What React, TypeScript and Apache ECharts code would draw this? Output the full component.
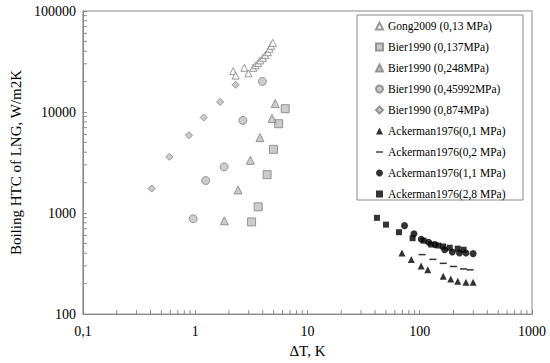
import React, { useEffect, useRef } from "react";
import * as echarts from "echarts";

// ---- data (ΔT in K, HTC in W/m2K) ----
const gong2009_013_dT = [2.18, 2.29, 2.74, 2.98, 3.29, 3.45, 3.64, 3.81, 4.02, 4.21, 4.44, 4.6, 4.75, 4.91];
const gong2009_013_htc = [25400, 22950, 27400, 24150, 27400, 29000, 30600, 32450, 34450, 36600, 39100, 42350, 45250, 48400];

const bier1990_0137_dT = [3.18, 3.64, 4.37, 4.98, 5.54, 6.34];
const bier1990_0137_htc = [817, 1153, 2399, 4273, 7660, 10790];

const bier1990_0248_dT = [1.82, 2.41, 3.1, 3.77, 4.84, 5.16];
const bier1990_0248_htc = [839, 1693, 3325, 5578, 8640, 12130];

const bier1990_045992_dT = [0.96, 1.24, 1.81, 2.66, 3.97];
const bier1990_045992_htc = [879, 2100, 2865, 8260, 20080];

const bier1990_0874_dT = [0.41, 0.59, 0.88, 1.19, 1.67, 2.29];
const bier1990_0874_htc = [1746, 3600, 5895, 8830, 12600, 18600];

const ackerman1976_01_dT = [69.5, 84.2, 102.9, 118, 162, 189, 218, 258, 299];
const ackerman1976_01_htc = [403, 348, 300, 274, 237, 223, 212, 207, 207];

const ackerman1976_02_dT = [105, 131, 162, 200, 245, 281];
const ackerman1976_02_htc = [388, 348, 318, 296, 280, 274];

const ackerman1976_11_dT = [73.2, 88.9, 103.2, 120, 137, 167, 195, 226, 258, 299];
const ackerman1976_11_htc = [751, 625, 550, 515, 488, 434, 412, 403, 403, 397];

const ackerman1976_28_dT = [41.6, 50.1, 65.4, 86.4, 108.5, 126.6, 146.4, 161.8, 185, 218, 246];
const ackerman1976_28_htc = [897, 768, 647, 564, 533, 488, 477, 467, 454, 444, 434];

const seriesNames = [
  "Gong2009 (0,13 MPa)",
  "Bier1990 (0,137MPa)",
  "Bier1990 (0,248MPa)",
  "Bier1990 (0,45992MPa)",
  "Bier1990 (0,874MPa)",
  "Ackerman1976(0,1 MPa)",
  "Ackerman1976(0,2 MPa)",
  "Ackerman1976(1,1 MPa)",
  "Ackerman1976(2,8 MPa)",
];

const xMin = 0.1;
const xMax = 1000;
const yMin = 100;
const yMax = 100000;
const xMinorTicks = [0.2, 0.3, 0.4, 0.5, 0.6, 0.7, 0.8, 0.9, 2, 3, 4, 5, 6, 7, 8, 9, 20, 30, 40, 50, 60, 70, 80, 90, 200, 300, 400, 500, 600, 700, 800, 900];
const yMinorTicks = [200, 300, 400, 500, 600, 700, 800, 900, 2000, 3000, 4000, 5000, 6000, 7000, 8000, 9000, 20000, 30000, 40000, 50000, 60000, 70000, 80000, 90000];

const zip = (a: number[], b: number[]) => a.map((v, i) => [v, b[i]]);

const AXIS_GRAY = "#898989";
const MARK_GRAY = "#bfbfbf";
const EDGE_GRAY = "#7f7f7f";
const FONT = "'Times New Roman', 'Liberation Serif', serif";
const DASH_PATH = "path://M0,0H10V2H0Z";

export default function App() {
  const ref = useRef<HTMLDivElement>(null);

  useEffect(() => {
    if (!ref.current) return;
    const chart = echarts.init(ref.current, undefined, { renderer: "svg" });

    const grayStyle = { color: MARK_GRAY, borderColor: EDGE_GRAY, borderWidth: 1 };
    const blackStyle = { color: "#000" };

    const tickData = [
      ...xMinorTicks.map((v) => [v, yMin, 0]),
      ...yMinorTicks.map((v) => [xMin, v, 1]),
    ];

    const option: any = {
      animation: false,
      backgroundColor: "#fff",
      textStyle: { fontFamily: FONT },
      grid: {
        left: 70,
        right: 18,
        top: 11,
        bottom: 40,
        show: true,
        borderColor: AXIS_GRAY,
        borderWidth: 1,
      },
      xAxis: {
        type: "log",
        logBase: 10,
        min: xMin,
        max: xMax,
        name: "ΔT, K",
        nameLocation: "middle",
        nameGap: 22,
        nameTextStyle: { fontFamily: FONT, fontSize: 15, color: "#000" },
        axisLine: { lineStyle: { color: AXIS_GRAY } },
        axisTick: { inside: true, length: 4, lineStyle: { color: AXIS_GRAY } },
        splitLine: { show: false },
        axisLabel: {
          fontFamily: FONT,
          fontSize: 14,
          color: "#000",
          margin: 10,
          formatter: (v: number) => String(v).replace(".", ","),
        },
      },
      yAxis: {
        type: "log",
        logBase: 10,
        min: yMin,
        max: yMax,
        name: "Boiling HTC of LNG, W/m2K",
        nameLocation: "middle",
        nameGap: 49,
        nameTextStyle: { fontFamily: FONT, fontSize: 15, color: "#000" },
        axisLine: { lineStyle: { color: AXIS_GRAY } },
        axisTick: { inside: true, length: 4, lineStyle: { color: AXIS_GRAY } },
        splitLine: { show: false },
        axisLabel: {
          fontFamily: FONT,
          fontSize: 14,
          color: "#000",
          margin: 7,
          formatter: (v: number) => String(v),
        },
      },
      graphic: [
        {
          type: "rect",
          z: 3,
          shape: { x: 357, y: 15, width: 166, height: 185 },
          style: { fill: "#fff", stroke: "#888", lineWidth: 1 },
        },
      ],
      legend: {
        orient: "vertical",
        left: 375,
        top: 20,
        padding: 0,
        itemWidth: 7,
        itemHeight: 7,
        itemGap: 9,
        z: 4,
        textStyle: { fontFamily: FONT, fontSize: 11.5, color: "#000" },
        data: [
          { name: seriesNames[0], icon: "triangle" },
          { name: seriesNames[1], icon: "rect" },
          { name: seriesNames[2], icon: "triangle" },
          { name: seriesNames[3], icon: "circle" },
          { name: seriesNames[4], icon: "diamond" },
          { name: seriesNames[5], icon: "triangle" },
          { name: seriesNames[6], icon: DASH_PATH },
          { name: seriesNames[7], icon: "circle" },
          { name: seriesNames[8], icon: "rect" },
        ],
      },
      series: [
        {
          type: "custom",
          name: "minorTicks",
          silent: true,
          clip: false,
          data: tickData,
          renderItem: (_p: any, api: any) => {
            const v0 = api.value(0);
            const v1 = api.value(1);
            const kind = api.value(2);
            const p = api.coord([v0, v1]);
            if (kind === 0) {
              return {
                type: "line",
                shape: { x1: p[0], y1: p[1], x2: p[0], y2: p[1] - 4 },
                style: { stroke: AXIS_GRAY, lineWidth: 1 },
              };
            }
            return {
              type: "line",
              shape: { x1: p[0], y1: p[1], x2: p[0] + 4, y2: p[1] },
              style: { stroke: AXIS_GRAY, lineWidth: 1 },
            };
          },
        },
        {
          type: "scatter",
          name: seriesNames[0],
          symbol: "triangle",
          symbolSize: 7,
          itemStyle: { color: "#fff", borderColor: EDGE_GRAY, borderWidth: 1 },
          data: zip(gong2009_013_dT, gong2009_013_htc),
        },
        {
          type: "scatter",
          name: seriesNames[1],
          symbol: "rect",
          symbolSize: 8,
          itemStyle: grayStyle,
          data: zip(bier1990_0137_dT, bier1990_0137_htc),
        },
        {
          type: "scatter",
          name: seriesNames[2],
          symbol: "triangle",
          symbolSize: 8,
          itemStyle: grayStyle,
          data: zip(bier1990_0248_dT, bier1990_0248_htc),
        },
        {
          type: "scatter",
          name: seriesNames[3],
          symbol: "circle",
          symbolSize: 8,
          itemStyle: grayStyle,
          data: zip(bier1990_045992_dT, bier1990_045992_htc),
        },
        {
          type: "scatter",
          name: seriesNames[4],
          symbol: "diamond",
          symbolSize: 7,
          itemStyle: grayStyle,
          data: zip(bier1990_0874_dT, bier1990_0874_htc),
        },
        {
          type: "scatter",
          name: seriesNames[5],
          symbol: "triangle",
          symbolSize: 7,
          itemStyle: blackStyle,
          data: zip(ackerman1976_01_dT, ackerman1976_01_htc),
        },
        {
          type: "scatter",
          name: seriesNames[6],
          symbol: "rect",
          symbolSize: [7, 1.5],
          itemStyle: blackStyle,
          data: zip(ackerman1976_02_dT, ackerman1976_02_htc),
        },
        {
          type: "scatter",
          name: seriesNames[7],
          symbol: "circle",
          symbolSize: 7,
          itemStyle: blackStyle,
          data: zip(ackerman1976_11_dT, ackerman1976_11_htc),
        },
        {
          type: "scatter",
          name: seriesNames[8],
          symbol: "rect",
          symbolSize: 6,
          itemStyle: blackStyle,
          data: zip(ackerman1976_28_dT, ackerman1976_28_htc),
        },
      ],
    };

    chart.setOption(option);
    return () => chart.dispose();
  }, []);

  return (
    <div
      ref={ref}
      style={{ position: "fixed", left: 0, top: 0, width: 550, height: 363, background: "#fff" }}
    />
  );
}
